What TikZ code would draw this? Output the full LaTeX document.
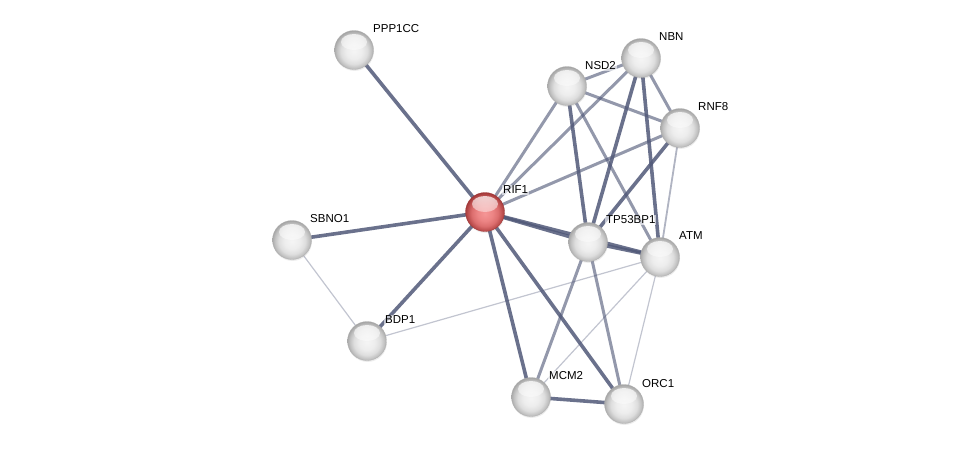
\documentclass[tikz,border=0pt]{standalone}
\usepackage{fontspec}
\setmainfont{Liberation Sans}
\usetikzlibrary{shadings,shadows,fadings}
\definecolor{edgec}{RGB}{80,88,120}
\definecolor{r0}{RGB}{245,150,150}
\definecolor{r1}{RGB}{236,132,132}
\definecolor{r2}{RGB}{220,110,110}
\definecolor{r3}{RGB}{190,80,80}
\definecolor{r4}{RGB}{160,55,55}
\pgfdeclareradialshading{greysphere}{\pgfpoint{0bp}{-2bp}}{%
  color(0bp)=(black!4); color(10bp)=(black!7); color(17bp)=(black!13);
  color(22bp)=(black!24); color(26bp)=(black!36); color(50bp)=(black!36)}
\pgfdeclareradialshading{redsphere}{\pgfpoint{0bp}{-2bp}}{%
  color(0bp)=(r0); color(10bp)=(r1); color(17bp)=(r2);
  color(22bp)=(r3); color(26bp)=(r4); color(50bp)=(r4)}
\tikzset{
  x=1pt,y=-1pt,
  hilite/.style={path picture={\fill[white,path fading=south,opacity=0.8]
     ([yshift=8pt]path picture bounding box.center) ellipse (13pt and 8pt);}},
  prot/.style={circle,minimum size=39pt,inner sep=0pt,shading=greysphere,draw=black!30,line width=0.3pt,hilite,
     drop shadow={opacity=0.15,shadow xshift=0.5pt,shadow yshift=-1.4pt}},
  rif/.style={prot,shading=redsphere,draw=r4},
  lab/.style={font=\fontsize{11.5}{13}\selectfont,anchor=south west,inner sep=1pt,fill=white,fill opacity=0.6,text opacity=1},
  strong/.style={draw=edgec,line width=3.6pt,opacity=0.85},
  med/.style={draw=edgec,line width=3pt,opacity=0.62},
  weak/.style={draw=edgec,line width=1.8pt,opacity=0.45},
  faint/.style={draw=edgec,line width=1.2pt,opacity=0.35},
}
\begin{document}
\begin{tikzpicture}
\useasboundingbox (0,0) rectangle (976,450);
\coordinate (pPPP1CC) at (354,50);
\coordinate (pRIF1) at (485,212);
\coordinate (pSBNO1) at (292,240);
\coordinate (pBDP1) at (367,341);
\coordinate (pNSD2) at (567,86);
\coordinate (pNBN) at (641,58);
\coordinate (pRNF8) at (680,128);
\coordinate (pTP53BP1) at (588,242);
\coordinate (pATM) at (660,257);
\coordinate (pMCM2) at (531,397);
\coordinate (pORC1) at (624,404);
% edges
\draw[strong] (pPPP1CC) -- (pRIF1);
\draw[strong] (pSBNO1) -- (pRIF1);
\draw[faint] (pSBNO1) -- (pBDP1);
\draw[strong] (pBDP1) -- (pRIF1);
\draw[faint] (pBDP1) -- (pATM);
\draw[med] (pRIF1) -- (pNSD2);
\draw[med] (pRIF1) -- (pNBN);
\draw[med] (pRIF1) -- (pRNF8);
\draw[strong] (pRIF1) -- (pTP53BP1);
\draw[strong] (pRIF1) -- (pATM);
\draw[strong] (pRIF1) -- (pMCM2);
\draw[strong] (pRIF1) -- (pORC1);
\draw[med] (pNSD2) -- (pNBN);
\draw[med] (pNSD2) -- (pRNF8);
\draw[strong] (pNSD2) -- (pTP53BP1);
\draw[med] (pNSD2) -- (pATM);
\draw[med] (pNBN) -- (pRNF8);
\draw[strong] (pNBN) -- (pTP53BP1);
\draw[strong] (pNBN) -- (pATM);
\draw[strong] (pRNF8) -- (pTP53BP1);
\draw[weak] (pRNF8) -- (pATM);
\draw[strong] (pTP53BP1) -- (pATM);
\draw[med] (pTP53BP1) -- (pMCM2);
\draw[med] (pTP53BP1) -- (pORC1);
\draw[faint] (pATM) -- (pMCM2);
\draw[faint] (pATM) -- (pORC1);
\draw[strong] (pMCM2) -- (pORC1);
% nodes
\node[prot] (PPP1CC) at (pPPP1CC) {};
\node[rif] (RIF1) at (pRIF1) {};
\node[prot] (SBNO1) at (pSBNO1) {};
\node[prot] (BDP1) at (pBDP1) {};
\node[prot] (NSD2) at (pNSD2) {};
\node[prot] (NBN) at (pNBN) {};
\node[prot] (RNF8) at (pRNF8) {};
\node[prot] (TP53BP1) at (pTP53BP1) {};
\node[prot] (ATM) at (pATM) {};
\node[prot] (MCM2) at (pMCM2) {};
\node[prot] (ORC1) at (pORC1) {};
% labels
\node[lab] (lPPP1CC) at (372,34) {PPP1CC};
\node[lab] (lRIF1) at (502,195) {RIF1};
\node[lab] (lSBNO1) at (309,224) {SBNO1};
\node[lab] (lBDP1) at (384,325) {BDP1};
\node[lab] (lNSD2) at (584,71) {NSD2};
\node[lab] (lNBN) at (658,42) {NBN};
\node[lab] (lRNF8) at (697,112) {RNF8};
\node[lab] (lTP53BP1) at (605,225) {TP53BP1};
\node[lab] (lATM) at (678,241) {ATM};
\node[lab] (lMCM2) at (548,381) {MCM2};
\node[lab] (lORC1) at (641,389) {ORC1};
\end{tikzpicture}
\end{document}
